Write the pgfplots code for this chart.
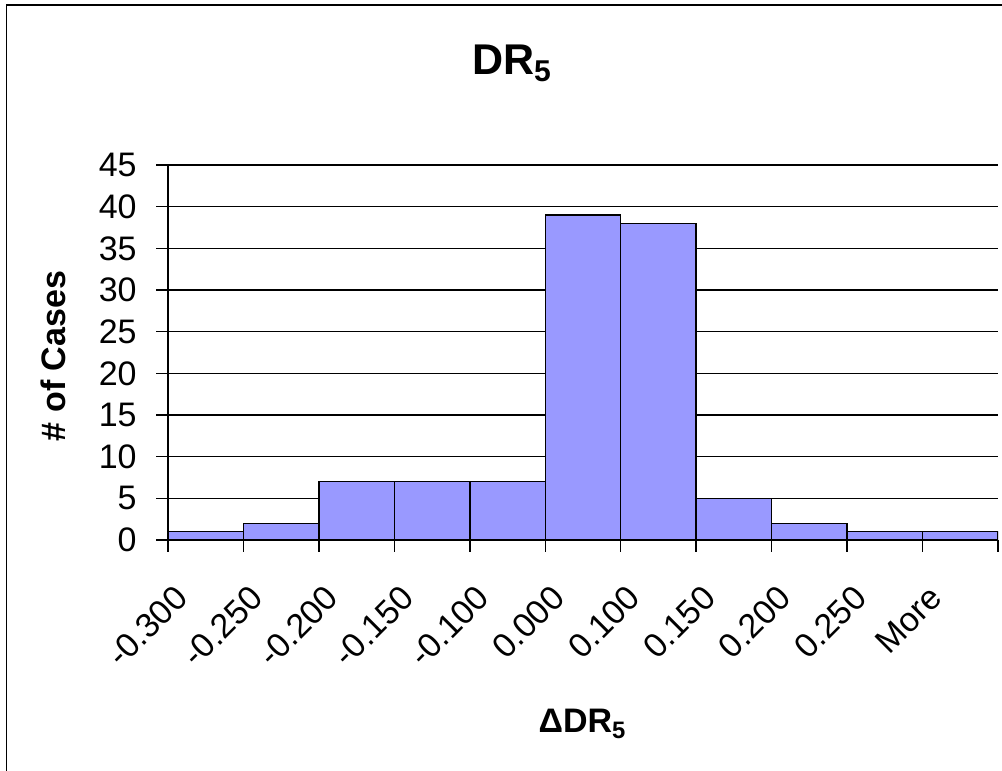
\documentclass[border=0pt]{standalone}
\usepackage{fontspec}
\setmainfont{Liberation Sans}
\usepackage{pgfplots}
\pgfplotsset{compat=1.18}
\definecolor{barfill}{RGB}{153,153,255}

\begin{document}
\begin{tikzpicture}[x=0.5pt,y=0.5pt]
  % fixed canvas and the chart frame (top and left edges)
  \path[use as bounding box] (0,0) rectangle (1002,771);
  \draw[line width=0.8pt] (6.5,0) -- (6.5,766) -- (1002,766);

  \begin{axis}[
      at={(84pt,115.5pt)}, anchor=south west,
      width=415pt, height=187.5pt, scale only axis,
      xmin=0, xmax=11, ymin=0, ymax=45,
      axis x line*=bottom, axis y line*=left,
      axis line style={-, black, line width=0.75pt},
      ytick={0,5,...,45},
      ymajorgrids, major grid style={black, line width=0.6pt},
      xtick={0.5,1.5,...,10.5},
      xticklabels={-0.300,-0.250,-0.200,-0.150,-0.100,0.000,0.100,0.150,0.200,0.250,More},
      minor xtick={0,1,...,11},
      tick align=outside,
      major tick length=6pt, minor tick length=6pt,
      major x tick style={draw=none},
      minor x tick style={black, line width=0.75pt},
      major y tick style={black, line width=0.6pt},
      /pgf/number format/assume math mode=true,
      tick label style={font=\fontsize{17}{17}\selectfont},
      yticklabel style={anchor=east, inner sep=0pt, xshift=-9.5pt},
      xticklabel style={anchor=base east, inner sep=0pt, xshift=-8pt, yshift=-24pt, rotate=45},
      ybar, bar width=1, bar shift=0pt,
    ]
    \addplot[fill=barfill, draw=black, line width=0.75pt] coordinates {
      (0.5,1) (1.5,2) (2.5,7) (3.5,7) (4.5,7) (5.5,39)
      (6.5,38) (7.5,5) (8.5,2) (9.5,1) (10.5,1)
    };
  \end{axis}

  \node[anchor=base, font=\bfseries\fontsize{21.5}{21.5}\selectfont] at (512,696) {DR\textsubscript{5}};
  \node[rotate=90, font=\bfseries\fontsize{17}{17}\selectfont] at (53,415) {\# of Cases};
  \node[anchor=base, font=\bfseries\fontsize{17}{17}\selectfont] at (582.5,38) {ΔDR\textsubscript{5}};
\end{tikzpicture}
\end{document}
